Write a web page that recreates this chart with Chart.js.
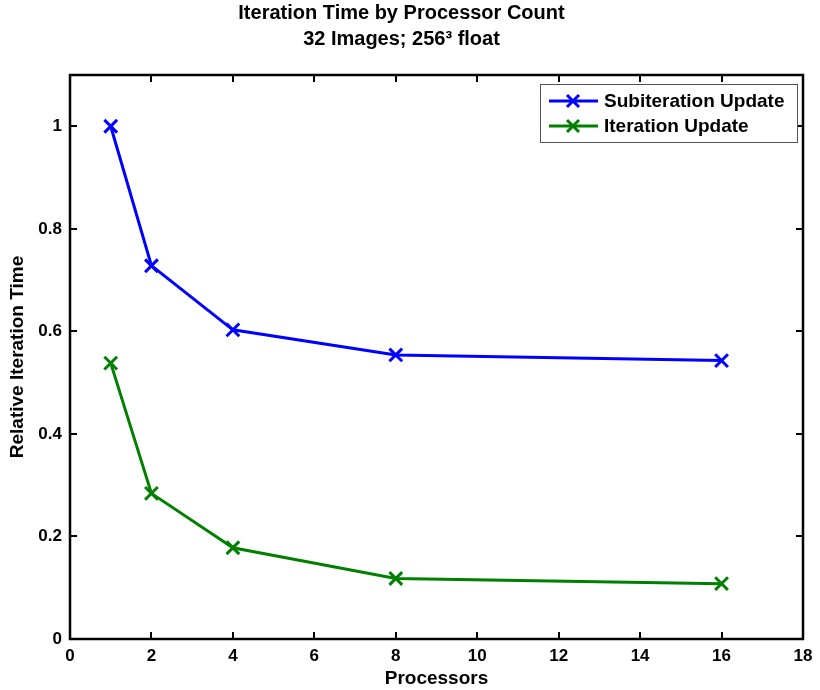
<!DOCTYPE html>
<html>
<head>
<meta charset="utf-8">
<script src="https://cdn.jsdelivr.net/npm/chart.js@4/dist/chart.umd.min.js"></script>
<style>
    html, body { margin: 0; padding: 0; background: #fff; }
    #wrap { width: 820px; height: 690px; }
</style>
</head>
<body>
<div id="wrap"><canvas id="chart" width="820" height="690"></canvas></div>
<script>
const FONT = "'Liberation Sans', Arial, Helvetica, sans-serif";

const processors = [1, 2, 4, 8, 16];
const subiterationTimes = [1.0, 0.728, 0.603, 0.554, 0.543];
const iterationTimes = [0.538, 0.284, 0.178, 0.118, 0.108];
const seriesLabels = ["Subiteration Update", "Iteration Update"];
const seriesColors = ["#0000ff", "#008000"];
const titleLines = ["Iteration Time by Processor Count", "32 Images; 256\u00b3 float"];

function toPoints(xs, ys) {
    return xs.map((x, i) => ({ x, y: ys[i] }));
}

function drawCross(ctx, x, y, r) {
    ctx.beginPath();
    ctx.moveTo(x - r, y - r);
    ctx.lineTo(x + r, y + r);
    ctx.moveTo(x + r, y - r);
    ctx.lineTo(x - r, y + r);
    ctx.stroke();
}

// MATLAB-style box with inward ticks on all four sides, plus a boxed legend
const boxPlugin = {
    id: "box",
    afterDraw(chart) {
        const { ctx, chartArea: a, scales } = chart;
        const tickLen = 7;

        ctx.save();
        ctx.strokeStyle = "#000";
        ctx.lineWidth = 2;

        scales.x.ticks.forEach((t) => {
            const px = Math.round(scales.x.getPixelForValue(t.value));
            if (px <= a.left + 1 || px >= a.right - 1) {
                return;
            }
            ctx.beginPath();
            ctx.moveTo(px, a.bottom);
            ctx.lineTo(px, a.bottom - tickLen);
            ctx.moveTo(px, a.top);
            ctx.lineTo(px, a.top + tickLen);
            ctx.stroke();
        });

        scales.y.ticks.forEach((t) => {
            const py = Math.round(scales.y.getPixelForValue(t.value));
            if (py <= a.top + 1 || py >= a.bottom - 1) {
                return;
            }
            ctx.beginPath();
            ctx.moveTo(a.left, py);
            ctx.lineTo(a.left + tickLen, py);
            ctx.moveTo(a.right, py);
            ctx.lineTo(a.right - tickLen, py);
            ctx.stroke();
        });

        ctx.lineWidth = 2.5;
        ctx.strokeRect(a.left, a.top, a.right - a.left, a.bottom - a.top);

        // legend
        const lx = a.right - 263;
        const ly = a.top + 9;
        const lw = 257;
        const lh = 58;
        ctx.fillStyle = "#fff";
        ctx.fillRect(lx, ly, lw, lh);
        ctx.lineWidth = 1;
        ctx.strokeStyle = "#555";
        ctx.strokeRect(lx + 0.5, ly + 0.5, lw, lh);

        ctx.font = "bold 19px " + FONT;
        ctx.textBaseline = "middle";
        ctx.textAlign = "left";
        chart.data.datasets.forEach((ds, i) => {
            const cy = ly + 17 + i * 25;
            ctx.strokeStyle = ds.borderColor;
            ctx.lineWidth = 3;
            ctx.beginPath();
            ctx.moveTo(lx + 9, cy);
            ctx.lineTo(lx + 58, cy);
            ctx.stroke();
            drawCross(ctx, lx + 33, cy, 6);
            ctx.fillStyle = "#000";
            ctx.fillText(ds.label, lx + 64, cy + 1);
        });

        ctx.restore();
    },
};

new Chart(document.getElementById("chart"), {
    type: "line",
    data: {
        datasets: [
            {
                label: seriesLabels[0],
                data: toPoints(processors, subiterationTimes),
                borderColor: seriesColors[0],
                backgroundColor: seriesColors[0],
            },
            {
                label: seriesLabels[1],
                data: toPoints(processors, iterationTimes),
                borderColor: seriesColors[1],
                backgroundColor: seriesColors[1],
            },
        ],
    },
    options: {
        responsive: false,
        animation: false,
        layout: {
            padding: { left: 0, right: 17, top: 0, bottom: 0 },
        },
        elements: {
            line: { borderWidth: 3, tension: 0 },
            point: { pointStyle: "crossRot", radius: 9, borderWidth: 3, hoverRadius: 9 },
        },
        plugins: {
            legend: { display: false },
            tooltip: { enabled: false },
            title: {
                display: true,
                text: titleLines,
                color: "#000",
                font: { family: FONT, size: 20, weight: "bold", lineHeight: 1.3 },
                padding: { top: 0, bottom: 23 },
            },
        },
        scales: {
            x: {
                type: "linear",
                min: 0,
                max: 18,
                grid: { display: false, drawTicks: false },
                border: { display: false },
                ticks: {
                    stepSize: 2,
                    color: "#000",
                    padding: 7,
                    font: { family: FONT, size: 17, weight: "bold" },
                },
                title: {
                    display: true,
                    text: "Processors",
                    color: "#000",
                    font: { family: FONT, size: 19, weight: "bold" },
                    padding: { top: 0, bottom: 0 },
                },
                afterFit(scale) {
                    scale.height = 51;
                },
            },
            y: {
                min: 0,
                max: 1.1,
                grid: { display: false, drawTicks: false },
                border: { display: false },
                afterBuildTicks(scale) {
                    scale.ticks = scale.ticks.filter((t) => t.value <= 1.0001);
                },
                ticks: {
                    stepSize: 0.2,
                    color: "#000",
                    padding: 8,
                    font: { family: FONT, size: 17, weight: "bold" },
                    callback(value) {
                        return String(Number(value.toFixed(1)));
                    },
                },
                title: {
                    display: true,
                    text: "Relative Iteration Time",
                    color: "#000",
                    font: { family: FONT, size: 19, weight: "bold" },
                    padding: { top: 6, bottom: 0 },
                },
                afterFit(scale) {
                    scale.width = 70;
                },
            },
        },
    },
    plugins: [boxPlugin],
});
</script>
</body>
</html>
